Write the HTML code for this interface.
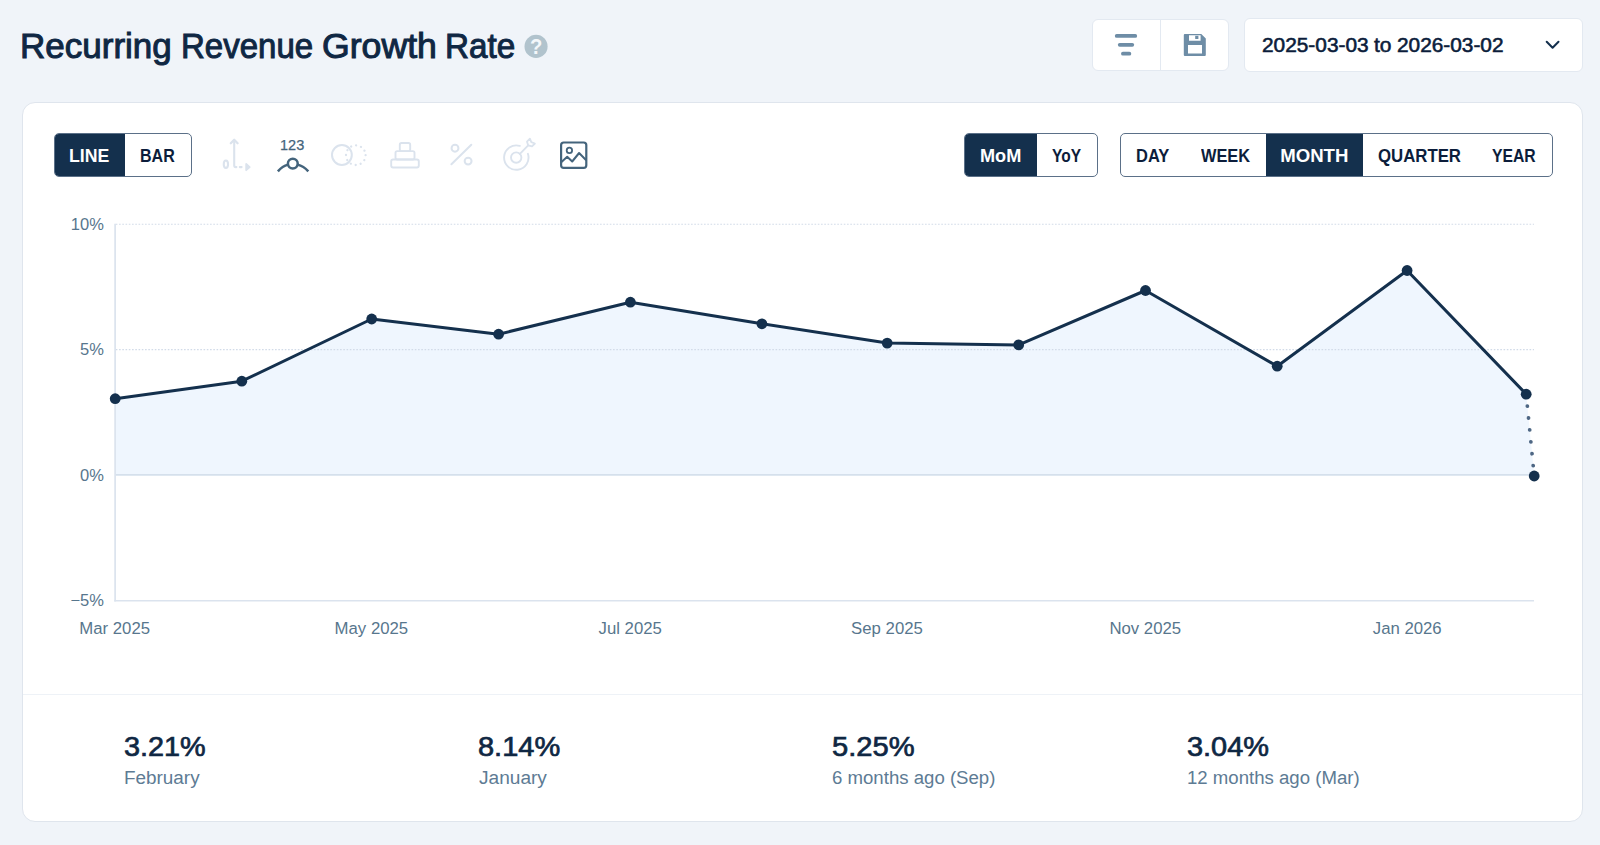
<!DOCTYPE html>
<html lang="en">
<head>
<meta charset="utf-8">
<title>Recurring Revenue Growth Rate</title>
<style>
html,body{margin:0;padding:0;}
body{width:1600px;height:845px;overflow:hidden;background:#f0f4f9;font-family:"Liberation Sans",sans-serif;position:relative;}
.t{position:absolute;white-space:nowrap;line-height:1;transform-origin:0 0;display:block;}
.box{position:absolute;box-sizing:border-box;}
.card{left:22px;top:102px;width:1561px;height:720px;background:#fff;border:1px solid #dfe5ed;border-radius:13px;}
.sep{left:23px;top:694px;width:1559px;height:1px;background:#eef2f7;}
.btns{left:1092px;top:19px;width:137px;height:52px;background:#fff;border:1px solid #e3e9f1;border-radius:6px;}
.btns i{position:absolute;left:67px;top:0;width:1px;height:50px;background:#e3e9f1;}
.date{left:1244px;top:18px;width:339px;height:54px;background:#fff;border:1px solid #e3e9f1;border-radius:6px;}
.tg{border:1px solid #5b7088;border-radius:5px;background:#fff;height:44px;top:133px;overflow:hidden;}
.tg b{position:absolute;top:-1px;height:44px;background:#14304d;display:block;}
svg{position:absolute;left:0;top:0;overflow:visible;}
.g{margin:0;padding:0;font-size:inherit;font-weight:inherit;}
</style>
</head>
<body>
<div class="box card"></div>
<div class="box sep"></div>
<div class="box btns"><i></i></div>
<div class="box date"></div>
<div class="box tg" style="left:54px;width:138px;"><b style="left:-1px;width:71px;"></b></div>
<div class="box tg" style="left:964px;width:134px;"><b style="left:-1px;width:73px;"></b></div>
<div class="box tg" style="left:1120px;width:433px;"><b style="left:145px;width:97px;"></b></div>
<svg width="1600" height="845" viewBox="0 0 1600 845">
<!-- chart -->
<g id="chart">
<polygon fill="#eff6fe" points="115.2,398.7 241.8,381.2 371.7,319 498.6,334.2 630.4,302.2 761.9,323.8 887.2,343.1 1018.7,344.9 1145.5,290.5 1277.2,366.2 1407.1,270.5 1526.2,394.2 1534.2,475 115.2,475"/>
<line x1="115.8" y1="224.3" x2="1534" y2="224.3" stroke="#d2dbe8" stroke-width="1.1" stroke-dasharray="1.6 1.65"/>
<line x1="115.8" y1="349.6" x2="1534" y2="349.6" stroke="#d2dbe8" stroke-width="1.1" stroke-dasharray="1.6 1.65"/>
<line x1="115.2" y1="474.9" x2="1534" y2="474.9" stroke="#d5e0ec" stroke-width="1.9"/>
<line x1="115.1" y1="223.8" x2="115.1" y2="601.5" stroke="#dbe3ee" stroke-width="1.7"/>
<line x1="114.3" y1="600.7" x2="1534" y2="600.7" stroke="#dbe3ee" stroke-width="1.6"/>
<line x1="1526.2" y1="394.2" x2="1534.2" y2="476" stroke="#4e6784" stroke-width="3.8" stroke-linecap="round" stroke-dasharray="0.01 11.95"/>
<polyline fill="none" stroke="#14304d" stroke-width="3" stroke-linejoin="round" stroke-linecap="round" points="115.2,398.7 241.8,381.2 371.7,319 498.6,334.2 630.4,302.2 761.9,323.8 887.2,343.1 1018.7,344.9 1145.5,290.5 1277.2,366.2 1407.1,270.5 1526.2,394.2"/>
<g fill="#14304d">
<circle cx="115.2" cy="398.7" r="5.4"/><circle cx="241.8" cy="381.2" r="5.4"/><circle cx="371.7" cy="319" r="5.4"/><circle cx="498.6" cy="334.2" r="5.4"/><circle cx="630.4" cy="302.2" r="5.4"/><circle cx="761.9" cy="323.8" r="5.4"/><circle cx="887.2" cy="343.1" r="5.4"/><circle cx="1018.7" cy="344.9" r="5.4"/><circle cx="1145.5" cy="290.5" r="5.4"/><circle cx="1277.2" cy="366.2" r="5.4"/><circle cx="1407.1" cy="270.5" r="5.4"/><circle cx="1526.2" cy="394.2" r="5.4"/><circle cx="1534.2" cy="476" r="5.4"/>
</g>
</g>
<!-- help icon -->
<circle cx="536.05" cy="46.4" r="11.55" fill="#b1c3cd"/>
<!-- filter icon -->
<g stroke="#6e8da6" stroke-width="3.7" stroke-linecap="round">
<line x1="1116.7" y1="35.9" x2="1135.3" y2="35.9"/>
<line x1="1119.7" y1="44.8" x2="1132.3" y2="44.8"/>
<line x1="1122.9" y1="53.7" x2="1129.4" y2="53.7"/>
</g>
<!-- save icon -->
<path fill="#6e8da6" fill-rule="evenodd" d="M1184.8 34 H1201.3 L1205.8 38.5 V55 a1 1 0 0 1 -1 1 H1184.8 a1 1 0 0 1 -1 -1 V35 a1 1 0 0 1 1 -1 Z M1189 35.3 V40.8 H1200.6 V35.3 Z M1188 45 V53.6 H1202 V45 Z"/>
<rect x="1195.2" y="35.8" width="3.2" height="3.2" fill="#6e8da6"/>
<!-- chevron -->
<polyline fill="none" stroke="#14304d" stroke-width="2" stroke-linecap="round" stroke-linejoin="round" points="1546.7,41.8 1552.6,47.8 1558.5,41.8"/>
<!-- axis icon -->
<g fill="none" stroke="#dbe3ed" stroke-width="2.1" stroke-linecap="round" stroke-linejoin="round">
<path d="M234.2 140.4 V165.6 a1.5 1.5 0 0 0 1.5 1.5 H236.4"/>
<polyline points="230.8,143.3 234.2,139.8 237.6,143.3" stroke-width="2.3"/>
<ellipse cx="225.9" cy="164.2" rx="2.15" ry="3.7"/>
<line x1="239.8" y1="167.1" x2="241.6" y2="167.1"/>
<polygon points="246.2,164 249.7,167.1 246.2,170.2" fill="#dbe3ed" stroke-width="1.8"/>
</g>
<!-- 123 icon -->
<g fill="none" stroke="#44647c" stroke-width="2.5">
<circle cx="292.8" cy="163.6" r="4.9"/>
<path d="M277.9 171.4 Q282.4 166 288 164.6"/>
<path d="M308.3 171.4 Q303.6 166 297.6 164.6"/>
</g>
<!-- circles icon -->
<g fill="none" stroke="#dbe3ed" stroke-width="2">
<circle cx="341.9" cy="155" r="9.9"/>
<circle cx="355.8" cy="155.2" r="9.8" stroke-width="2.3" stroke-linecap="round" stroke-dasharray="0.01 5.121"/>
</g>
<!-- stack icon -->
<g fill="none" stroke="#dbe3ed" stroke-width="1.9" stroke-linejoin="round">
<rect x="399.8" y="143" width="10.4" height="8.1" rx="1.7"/>
<rect x="395.5" y="151.1" width="19" height="8.4" rx="1.7"/>
<rect x="391.2" y="159.5" width="27.6" height="8" rx="1.9"/>
</g>
<!-- percent icon -->
<g fill="none" stroke="#dbe3ed" stroke-width="2" stroke-linecap="round">
<circle cx="455" cy="148.2" r="3.45"/>
<circle cx="468.1" cy="161.1" r="3.45"/>
<line x1="471.3" y1="144.7" x2="451.4" y2="164.3"/>
</g>
<!-- target icon -->
<g fill="none" stroke="#dbe3ed" stroke-width="1.9" stroke-linecap="round" stroke-linejoin="round">
<path d="M519.8 145.9 A12.2 12.2 0 1 0 527.9 153.8"/>
<circle cx="516.2" cy="157.6" r="5.2"/>
<line x1="519.9" y1="153.9" x2="528.2" y2="145.4"/>
<path d="M528.2 145.4 L527 141.7 L529.9 138.7 L531.3 142.2 L534.9 143.5 L532 146.4 Z" stroke-width="1.8"/>
</g>
<!-- image icon -->
<g fill="none" stroke="#44647c" stroke-linejoin="round">
<rect x="561.1" y="142.5" width="25.2" height="25.3" rx="2.6" stroke-width="2.2"/>
<circle cx="569.4" cy="150.4" r="2.7" stroke-width="1.8"/>
<polyline points="561.2,162.2 567.2,156.8 572.2,161.5 579.1,153 586.2,160.2" stroke-width="2"/>
</g>

</svg>
<h1 class="g title">
<span class="t" style="left:19.96px;top:28.57px;font-size:34.3px;color:#0f2743;transform:scaleX(1.0207);-webkit-text-stroke:1.0px #0f2743;">Recurring</span>
<span class="t" style="left:181.14px;top:28.57px;font-size:34.3px;color:#0f2743;transform:scaleX(0.9624);-webkit-text-stroke:1.0px #0f2743;">Revenue</span>
<span class="t" style="left:322.49px;top:28.57px;font-size:34.3px;color:#0f2743;transform:scaleX(1.0395);-webkit-text-stroke:1.0px #0f2743;">Growth</span>
<span class="t" style="left:444.93px;top:28.57px;font-size:34.3px;color:#0f2743;transform:scaleX(0.9683);-webkit-text-stroke:1.0px #0f2743;">Rate</span>
<span class="t" style="left:529.89px;top:36.22px;font-size:21.6px;color:#f4f7fa;font-weight:700;transform:scaleX(0.9350);">?</span>
</h1>
<div class="g daterange">
<span class="t" style="left:1261.75px;top:35.61px;font-size:19.6px;color:#0c1d3b;transform:scaleX(1.0634);-webkit-text-stroke:0.55px #0c1d3b;">2025-03-03</span>
<span class="t" style="left:1374.28px;top:35.61px;font-size:19.6px;color:#0c1d3b;transform:scaleX(1.0699);-webkit-text-stroke:0.55px #0c1d3b;">to</span>
<span class="t" style="left:1397.45px;top:35.61px;font-size:19.6px;color:#0c1d3b;transform:scaleX(1.0624);-webkit-text-stroke:0.55px #0c1d3b;">2026-03-02</span>
</div>
<div class="g charttype">
<span class="t" style="left:69.05px;top:146.86px;font-size:18.6px;color:#ffffff;font-weight:700;transform:scaleX(0.9513);">LINE</span>
<span class="t" style="left:140.26px;top:146.86px;font-size:18.6px;color:#0c1d3b;font-weight:700;transform:scaleX(0.8615);">BAR</span>
</div>
<div class="g compare">
<span class="t" style="left:980.22px;top:146.86px;font-size:18.6px;color:#ffffff;font-weight:700;transform:scaleX(0.9758);">MoM</span>
<span class="t" style="left:1052.17px;top:146.86px;font-size:18.6px;color:#0c1d3b;font-weight:700;transform:scaleX(0.8340);">YoY</span>
</div>
<div class="g interval">
<span class="t" style="left:1136.33px;top:146.86px;font-size:18.6px;color:#0c1d3b;font-weight:700;transform:scaleX(0.8857);">DAY</span>
<span class="t" style="left:1201.00px;top:146.86px;font-size:18.6px;color:#0c1d3b;font-weight:700;transform:scaleX(0.8802);">WEEK</span>
<span class="t" style="left:1280.19px;top:146.86px;font-size:18.6px;color:#ffffff;font-weight:700;">MONTH</span>
<span class="t" style="left:1378.33px;top:146.86px;font-size:18.6px;color:#0c1d3b;font-weight:700;transform:scaleX(0.9021);">QUARTER</span>
<span class="t" style="left:1492.16px;top:146.86px;font-size:18.6px;color:#0c1d3b;font-weight:700;transform:scaleX(0.8458);">YEAR</span>
</div>
<div class="g tools">
<span class="t" style="left:279.63px;top:136.58px;font-size:15.5px;color:#44647c;transform:scaleX(0.9379);-webkit-text-stroke:0.25px #44647c;">123</span>
</div>
<div class="g yaxis">
<span class="t" style="left:70.84px;top:215.63px;font-size:16.5px;color:#57768d;">10%</span>
<span class="t" style="left:80.02px;top:341.23px;font-size:16.5px;color:#57768d;">5%</span>
<span class="t" style="left:80.02px;top:466.73px;font-size:16.5px;color:#57768d;">0%</span>
<span class="t" style="left:70.38px;top:592.43px;font-size:16.5px;color:#57768d;">−5%</span>
</div>
<div class="g xaxis">
<span class="t" style="left:79.29px;top:620.72px;font-size:16.75px;color:#57768d;">Mar 2025</span>
<span class="t" style="left:334.59px;top:620.72px;font-size:16.75px;color:#57768d;">May 2025</span>
<span class="t" style="left:598.56px;top:620.72px;font-size:16.75px;color:#57768d;">Jul 2025</span>
<span class="t" style="left:851.11px;top:620.72px;font-size:16.75px;color:#57768d;">Sep 2025</span>
<span class="t" style="left:1109.42px;top:620.72px;font-size:16.75px;color:#57768d;">Nov 2025</span>
<span class="t" style="left:1372.76px;top:620.72px;font-size:16.75px;color:#57768d;">Jan 2026</span>
</div>
<div class="g summary">
<span class="t" style="left:124.36px;top:732.64px;font-size:27.6px;color:#0f2743;transform:scaleX(1.0435);-webkit-text-stroke:0.7px #0f2743;">3.21%</span>
<span class="t" style="left:123.79px;top:768.76px;font-size:18.0px;color:#5d7b94;transform:scaleX(1.0498);">February</span>
<span class="t" style="left:478.41px;top:732.64px;font-size:27.6px;color:#0f2743;transform:scaleX(1.0506);-webkit-text-stroke:0.7px #0f2743;">8.14%</span>
<span class="t" style="left:479.31px;top:768.76px;font-size:18.0px;color:#5d7b94;transform:scaleX(1.0601);">January</span>
<span class="t" style="left:832.40px;top:732.64px;font-size:27.6px;color:#0f2743;transform:scaleX(1.0558);-webkit-text-stroke:0.7px #0f2743;">5.25%</span>
<span class="t" style="left:832.47px;top:768.76px;font-size:18.0px;color:#5d7b94;transform:scaleX(1.0337);">6 months ago (Sep)</span>
<span class="t" style="left:1187.35px;top:732.64px;font-size:27.6px;color:#0f2743;transform:scaleX(1.0480);-webkit-text-stroke:0.7px #0f2743;">3.04%</span>
<span class="t" style="left:1187.21px;top:768.76px;font-size:18.0px;color:#5d7b94;transform:scaleX(1.0332);">12 months ago (Mar)</span>
</div>
</body>
</html>
